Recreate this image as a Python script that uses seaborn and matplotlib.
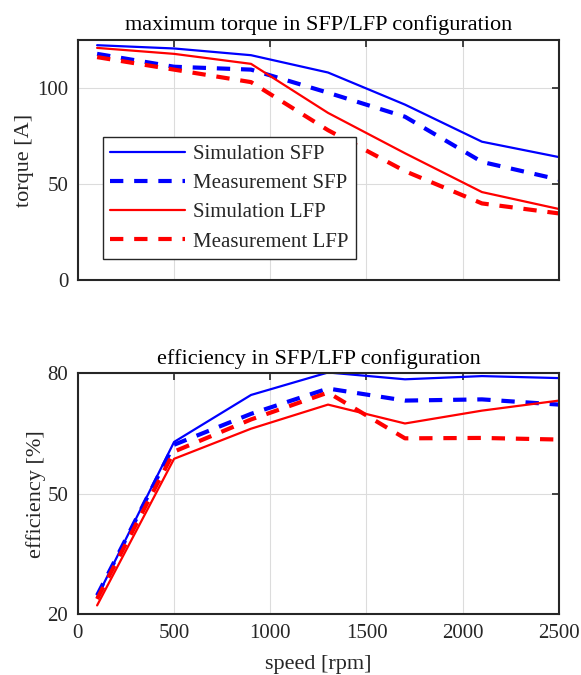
import numpy as np
import pandas as pd
import matplotlib
matplotlib.use("Agg")
import matplotlib.pyplot as plt
import seaborn as sns

# Daten
speed = [100, 500, 900, 1300, 1700, 2100, 2500]

torque_sim_sfp = [122.2, 120.5, 117.0, 108.0, 91.3, 72.0, 64.0]
torque_meas_sfp = [117.7, 111.0, 109.5, 97.5, 85.0, 61.5, 52.3]
torque_sim_lfp = [120.8, 117.7, 112.5, 87.0, 66.0, 45.8, 37.0]
torque_meas_lfp = [116.0, 109.5, 103.0, 78.0, 56.7, 39.9, 34.7]

eff_sim_sfp = [24.3, 62.9, 74.6, 80.2, 78.5, 79.3, 78.8]
eff_meas_sfp = [24.7, 62.2, 69.9, 76.2, 73.2, 73.5, 72.2]
eff_sim_lfp = [22.2, 58.7, 66.2, 72.2, 67.5, 70.7, 73.2]
eff_meas_lfp = [23.8, 60.5, 68.5, 75.2, 63.8, 63.9, 63.5]

labels = ["Simulation SFP", "Measurement SFP", "Simulation LFP", "Measurement LFP"]
colors = ["#0000ff", "#0000ff", "#ff0000", "#ff0000"]
styles = ["-", "--", "-", "--"]
widths = [1.6, 3.0, 1.6, 3.0]

sns.set_style("white")
plt.rcParams["font.family"] = ["Liberation Serif", "DejaVu Serif"]

fig = plt.figure(figsize=(5.81, 6.75), dpi=100)
ax1 = fig.add_axes([0.134, 0.585, 0.828, 0.356])
ax2 = fig.add_axes([0.134, 0.090, 0.828, 0.357])


def draw(ax, series):
    for vals, lab, c, ls, lw in zip(series, labels, colors, styles, widths):
        df = pd.DataFrame({"speed": speed, "val": vals})
        sns.lineplot(data=df, x="speed", y="val", ax=ax, color=c, linestyle=ls,
                     linewidth=lw, label=lab, legend=False)
        if ls == "--":
            ax.lines[-1].set_dashes((3.2, 2.6))
    ax.set_xlim(0, 2500)
    ax.set_xticks([0, 500, 1000, 1500, 2000, 2500])
    ax.grid(True, color="#dcdcdc", linewidth=0.8)
    ax.tick_params(direction="in", length=5, width=1.2, top=True, right=True,
                   labelsize=15, colors="#262626", pad=7)
    for s in ax.spines.values():
        s.set_linewidth(1.5)
        s.set_color("#262626")
        s.set_visible(True)


draw(ax1, [torque_sim_sfp, torque_meas_sfp, torque_sim_lfp, torque_meas_lfp])
ax1.set_ylim(0, 125)
ax1.set_yticks([0, 50, 100])
ax1.set_xticklabels([])
ax1.set_xlabel("")
ax1.set_ylabel("torque [A]", fontsize=16, color="#262626", labelpad=2)
ax1.set_title("maximum torque in SFP/LFP configuration", fontsize=16, color="#000000", pad=7)
leg = ax1.legend(loc="upper left", bbox_to_anchor=(0.052, 0.595), fontsize=15,
                 handlelength=3.6, handletextpad=0.4, frameon=True, fancybox=False,
                 framealpha=1, edgecolor="#262626", borderpad=0.35, labelspacing=0.46,
                 borderaxespad=0)
leg.get_frame().set_linewidth(1.0)

draw(ax2, [eff_sim_sfp, eff_meas_sfp, eff_sim_lfp, eff_meas_lfp])
ax2.set_ylim(20, 80)
ax2.set_yticks([20, 50, 80])
ax2.set_xlabel("speed [rpm]", fontsize=16, color="#262626", labelpad=9)
ax2.set_ylabel("efficiency [%]", fontsize=16, color="#262626", labelpad=1)
ax2.set_title("efficiency in SFP/LFP configuration", fontsize=16, color="#000000", pad=7)

fig.savefig("out.png", dpi=100)
